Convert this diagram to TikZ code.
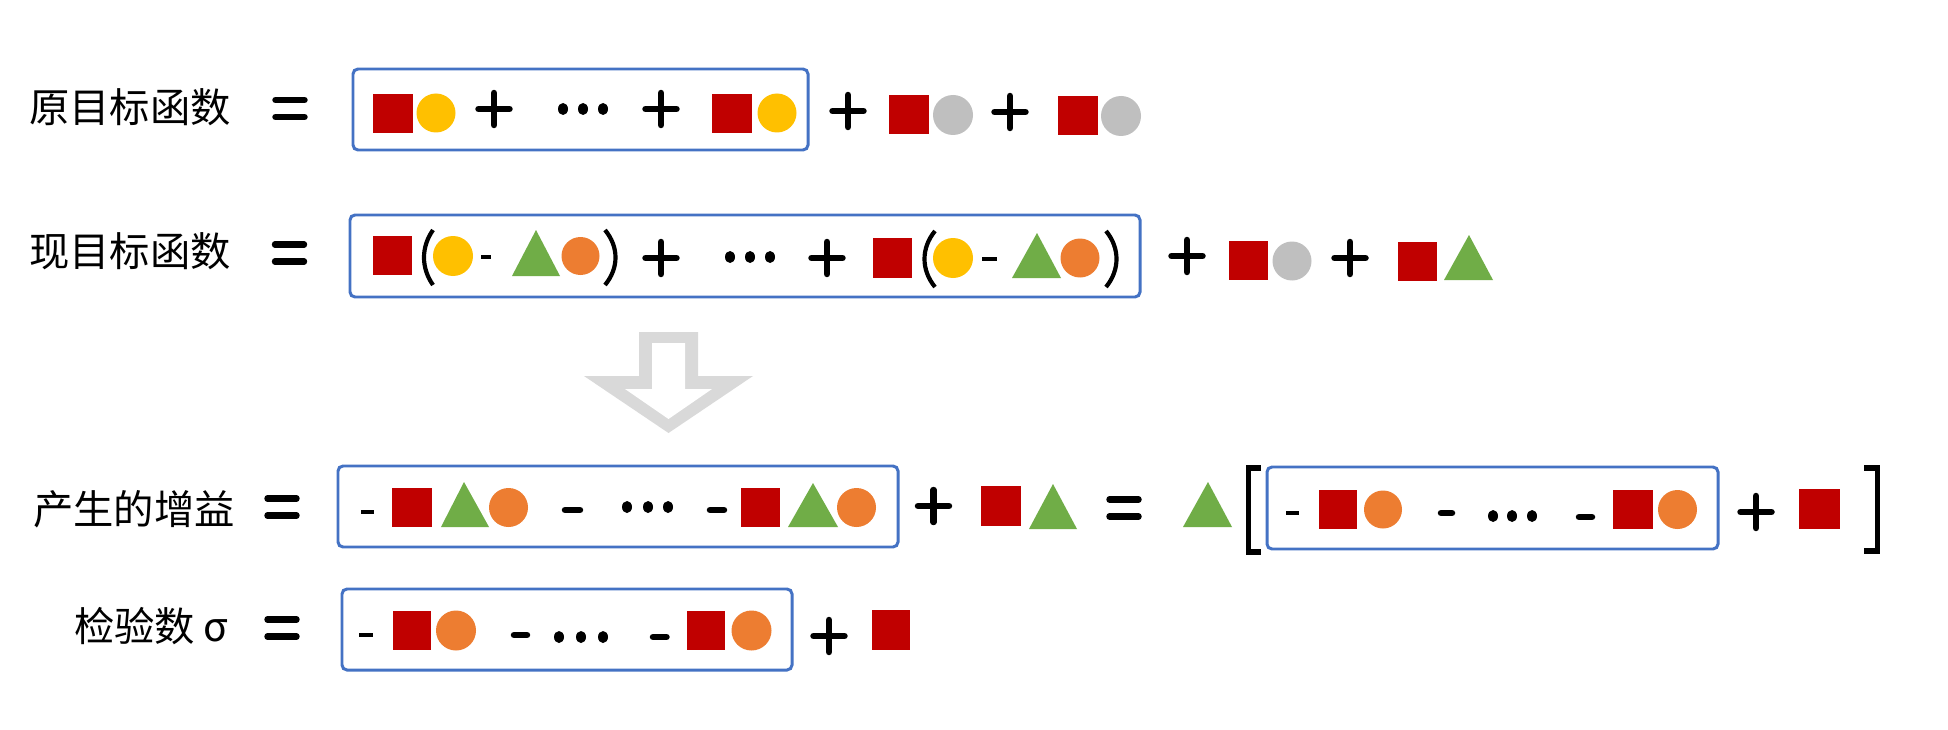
\documentclass[tikz,border=0pt]{standalone}
\usepackage{fontspec}
\newfontfamily\cjkfont{Noto Sans CJK SC}
\definecolor{redc}{HTML}{C00000}
\definecolor{yelc}{HTML}{FFC000}
\definecolor{grayc}{HTML}{BFBFBF}
\definecolor{orac}{HTML}{ED7D31}
\definecolor{grnc}{HTML}{70AD47}
\definecolor{bluc}{HTML}{4472C4}
\definecolor{arrc}{HTML}{D9D9D9}
\tikzset{
  lbl/.style={anchor=west,inner sep=0pt,font=\cjkfont\fontsize{40.5}{40.5}\selectfont},
  grpbox/.style={draw=bluc,line width=3,rounded corners=5},
  opl/.style={line width=6.5,line cap=round},
  thinsign/.style={line width=4.5},
  thicksign/.style={line width=6.5,line cap=round},
  paren/.style={line width=4.2},
  brk/.style={line width=5.5},
}
\newcommand\RSq[4]{\fill[redc] (#1,#2) rectangle (#3,#4);}
\newcommand\Dot[4]{\fill[#1] (#2,#3) circle[radius=#4];}
\newcommand\Tri[5]{\fill[grnc] (#1,#5) -- (#4,#3) -- (#2,#5) -- cycle;}
\newcommand\PlusSign[2]{\draw[opl,shift={(#1,#2)}] (-15.5,0) -- (15.5,0) (0,-16) -- (0,16);}
\newcommand\EqSign[2]{\draw[opl,shift={(#1,#2)}] (-14.5,-8.5) -- (14.5,-8.5) (-14.5,8.5) -- (14.5,8.5);}
\newcommand\Dots[4]{\foreach \xx in {#1,#2,#3} {\fill (\xx,#4) ellipse[x radius=5,y radius=6];}}
\newcommand\ShortDash[3]{\draw[thinsign] (#1,#3) -- (#2,#3);}
\newcommand\LongDash[3]{\draw[thicksign] (#1+3,#3) -- (#2-3,#3);}
\newcommand\LParen[4]{\draw[paren] (#2,#3) .. controls (#1-1,#3+17) and (#1-1,#4-17) .. (#2,#4);}
\newcommand\RParen[4]{\draw[paren] (#1,#3) .. controls (#2+1,#3+17) and (#2+1,#4-17) .. (#1,#4);}
\begin{document}
\begin{tikzpicture}[x=1bp,y=-1bp]
\useasboundingbox (0,0) rectangle (1948,730);
\fill[white] (0,0) rectangle (1948,730);

% ---------- row 1 ----------
\node[lbl] (l1) at (29,107) {原目标函数};
\EqSign{290}{108.5}
\draw[grpbox] (353,69) rectangle (808,150);
\RSq{373}{94}{413}{133}
\Dot{yelc}{436}{113}{19.5}
\PlusSign{494}{109}
\Dots{563}{583}{603}{109}
\PlusSign{661}{109}
\RSq{712}{94}{752}{133}
\Dot{yelc}{777}{113}{19.5}
\PlusSign{848}{111}
\RSq{889}{95}{929}{134}
\Dot{grayc}{953}{115}{20}
\PlusSign{1010}{112}
\RSq{1058}{96}{1098}{135}
\Dot{grayc}{1121}{116}{20}

% ---------- row 2 ----------
\node[lbl] (l2) at (29,251) {现目标函数};
\EqSign{289.5}{253}
\draw[grpbox] (350,215) rectangle (1140,297);
\RSq{373}{236}{412}{275}
\LParen{422}{433}{230}{285}
\Dot{yelc}{453}{256}{20}
\ShortDash{481}{491}{257}
\Tri{512}{560}{230}{536}{276}
\Dot{orac}{580.5}{256}{19}
\RParen{605}{618}{230}{285}
\PlusSign{661}{258}
\Dots{730}{750}{770}{257}
\PlusSign{827}{258}
\RSq{873}{238}{912}{278}
\LParen{922}{935}{231}{287}
\Dot{yelc}{953}{258}{20}
\ShortDash{982}{997}{259}
\Tri{1012}{1061}{233}{1037}{278}
\Dot{orac}{1080}{258}{19.5}
\RParen{1106}{1119}{231}{287}
\PlusSign{1187}{256}
\RSq{1229}{241}{1268}{280}
\Dot{grayc}{1292}{261}{19.5}
\PlusSign{1350}{258}
\RSq{1398}{242}{1437}{281}
\Tri{1444}{1493}{235}{1469}{280}

% ---------- arrow ----------
\fill[arrc] (639,332) -- (698,332) -- (698,376) -- (753,376) -- (668.5,433) -- (584,376) -- (639,376) -- cycle;
\fill[white] (652,343) -- (685,343) -- (685,389) -- (712,389) -- (668.5,419) -- (625,389) -- (652,389) -- cycle;

% ---------- row 3 ----------
\node[lbl] (l3) at (33,509) {产生的增益};
\EqSign{282}{507}
\draw[grpbox] (338,466) rectangle (898,547);
\ShortDash{361}{374}{512}
\RSq{392}{488}{432}{527}
\Tri{441}{489}{482}{464}{527}
\Dot{orac}{508.5}{507.5}{19.5}
\LongDash{562}{583}{510}
\Dots{627}{648}{668}{507}
\LongDash{707}{727}{510}
\RSq{741}{488}{780}{527}
\Tri{788}{838}{483}{813}{527}
\Dot{orac}{856.5}{507.5}{19.5}
\PlusSign{933.5}{506}
\RSq{981}{486}{1020.5}{526}
\Tri{1029}{1077}{484}{1053}{529}
\EqSign{1124}{508}
\Tri{1183}{1232}{482}{1208}{527}
\draw[brk] (1261,468) -- (1248.5,468) -- (1248.5,552) -- (1261,552);
\draw[grpbox] (1267,467) rectangle (1718,549);
\ShortDash{1286}{1299}{513}
\RSq{1318.5}{490}{1357}{529}
\Dot{orac}{1383}{509.5}{19}
\LongDash{1438}{1455}{513}
\Dots{1493}{1512}{1532}{516}
\LongDash{1576}{1595}{517}
\RSq{1613}{490}{1653}{529}
\Dot{orac}{1677.5}{509.5}{19.5}
\PlusSign{1756}{512}
\RSq{1799}{489}{1840}{529}
\draw[brk] (1864,468) -- (1877.5,468) -- (1877.5,551) -- (1864,551);

% ---------- row 4 ----------
\node[lbl] (l4) at (74,626) {检验数\hspace{8bp}σ};
\EqSign{282}{628}
\draw[grpbox] (342,589) rectangle (792,670);
\ShortDash{359}{373}{635}
\RSq{392.5}{611}{431}{650}
\Dot{orac}{456}{630.5}{20}
\LongDash{511}{530}{635}
\Dots{559}{581}{603}{637}
\LongDash{650}{669.5}{637}
\RSq{686.5}{611}{725}{650}
\Dot{orac}{751.5}{630.5}{20}
\PlusSign{829}{636}
\RSq{871.5}{610}{910}{650}
\end{tikzpicture}
\end{document}
